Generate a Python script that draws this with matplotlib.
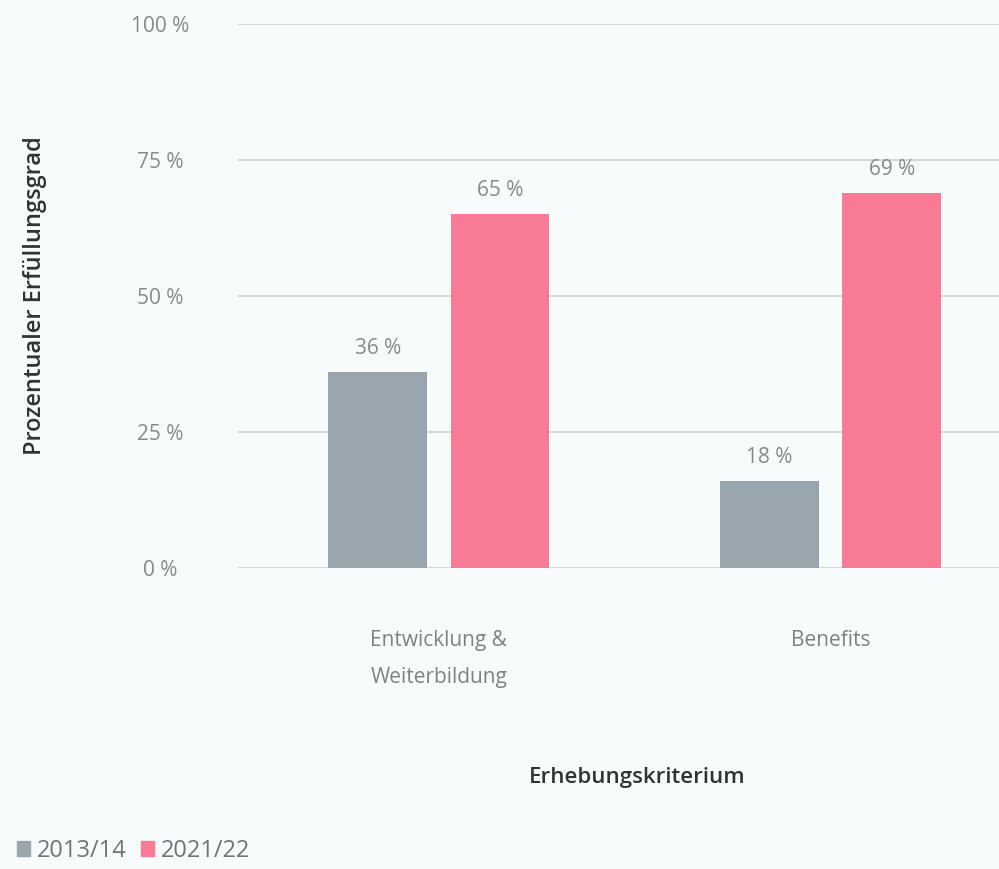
import numpy as np
import matplotlib.pyplot as plt

categories = ["Entwicklung &\nWeiterbildung", "Benefits"]
series_names = ["2013/14", "2021/22"]
values_2013 = [36, 16]
values_2021 = [65, 69]
labels_2013 = ["36 %", "18 %"]
labels_2021 = ["65 %", "69 %"]
yticks = [0, 25, 50, 75, 100]
ytick_labels = ["0 %", "25 %", "50 %", "75 %", "100 %"]

gray = "#9aa6ad"
pink = "#f77b94"
bg = "#f7fbfc"
txt = "#858a8d"

plt.rcParams["font.family"] = ["Open Sans", "DejaVu Sans"]

fig = plt.figure(figsize=(9.99, 8.69), dpi=100, facecolor=bg)
ax = fig.add_axes([0.238, 0.3464, 0.762, 0.6260], facecolor=bg)

x = np.arange(len(categories))
w = 0.252
off = 0.156
b1 = ax.bar(x - off, values_2013, w, color=gray, zorder=3)
b2 = ax.bar(x + off, values_2021, w, color=pink, zorder=3)

for bars, labs in [(b1, labels_2013), (b2, labels_2021)]:
    for rect, lab in zip(bars, labs):
        ax.annotate(lab, (rect.get_x() + rect.get_width() / 2, rect.get_height()),
                    xytext=(0, 17), textcoords="offset points", ha="center", va="center",
                    fontsize=15, color=txt)

ax.set_xlim(-0.513, 1.43)
ax.set_ylim(0, 100)
ax.set_yticks(yticks)
ax.set_yticklabels(ytick_labels, fontsize=15, color=txt, ha="center")
ax.tick_params(axis="y", length=0, pad=56)
ax.set_xticks(x)
ax.set_xticklabels(categories, fontsize=15, color="#7d8285", linespacing=1.95, va="top")
ax.tick_params(axis="x", length=0, pad=45)
ax.grid(axis="y", color="#d3d7d9", linewidth=1.4, zorder=0)
for s in ax.spines.values():
    s.set_visible(False)

ax.set_ylabel("Prozentualer Erfüllungsgrad", fontsize=17, color="#2f3336", fontweight="semibold")
ax.yaxis.set_label_coords(-0.25, 0.5)
fig.text(0.638, 0.105, "Erhebungskriterium", ha="center", va="center", fontsize=16,
         color="#2f3336", fontweight="semibold")

handles = [plt.Rectangle((0, 0), 1, 1, color=gray), plt.Rectangle((0, 0), 1, 1, color=pink)]
fig.legend(handles, series_names, loc="lower left", bbox_to_anchor=(0.0, -0.012), ncol=2,
           frameon=False, fontsize=17, labelcolor="#6f7477", handlelength=0.55, handleheight=0.55,
           handletextpad=0.3, columnspacing=0.6, borderaxespad=0.3)

fig.savefig("out.png", dpi=100, facecolor=bg)
